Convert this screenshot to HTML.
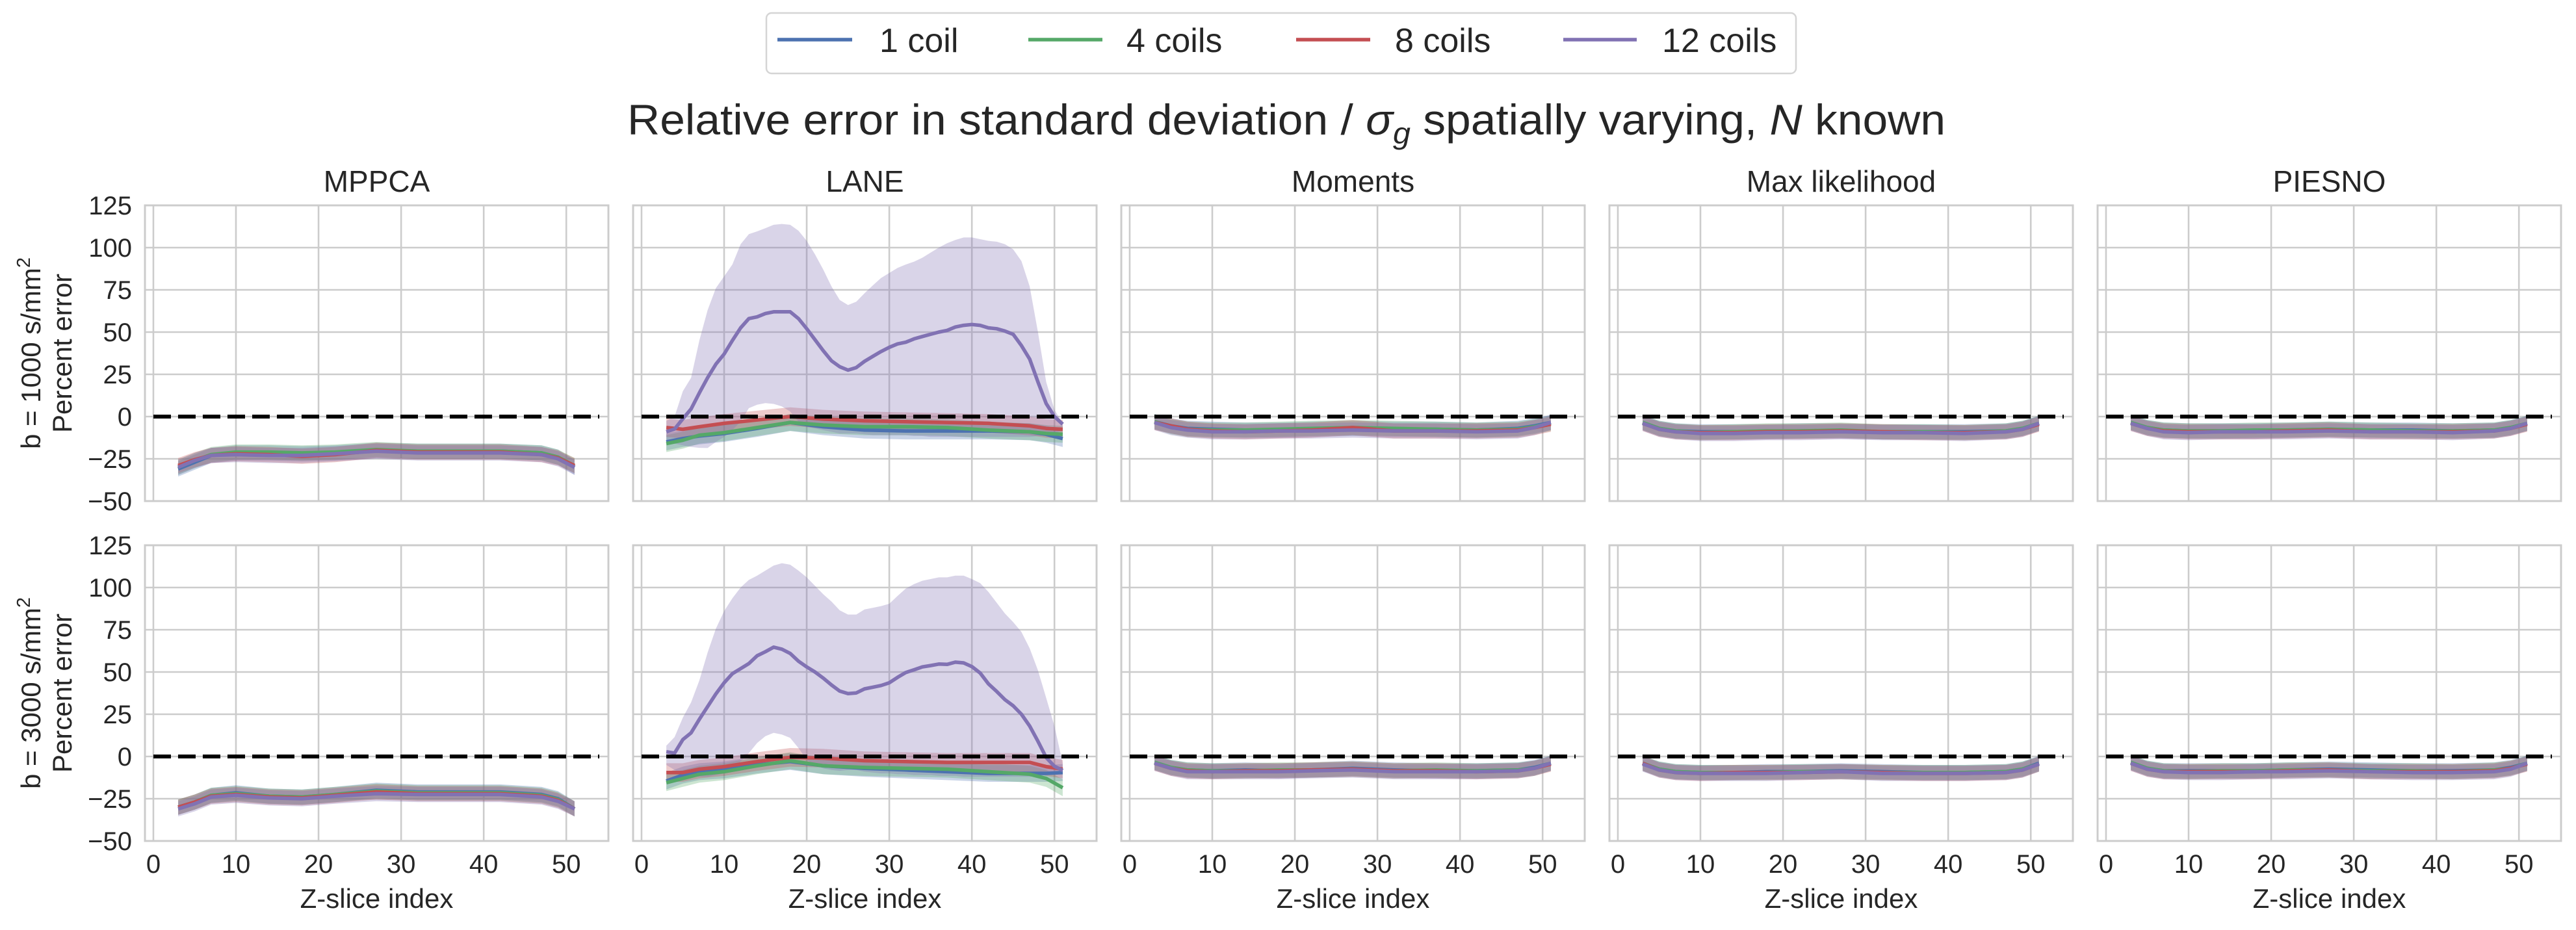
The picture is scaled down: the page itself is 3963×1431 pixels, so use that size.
<!DOCTYPE html>
<html><head><meta charset="utf-8"><style>
html,body{margin:0;padding:0;background:#fff;}
svg{display:block;font-family:"Liberation Sans",Arial,sans-serif;}
</style></head><body>
<svg id="fig" width="3963" height="1431" viewBox="0 0 3963 1431" xmlns="http://www.w3.org/2000/svg">
<rect width="3963" height="1431" fill="#fff"/>
<g>
<rect x="1179" y="20" width="1584" height="93" rx="8" fill="#fff" stroke="#d5d5d5" stroke-width="2.5"/>
<g><line x1="1196" y1="61" x2="1311" y2="61" stroke="#4c72b0" stroke-width="5.5"/><text x="1353" y="80" font-size="52" fill="#262626">1 coil</text></g>
<g><line x1="1582" y1="61" x2="1696" y2="61" stroke="#55a868" stroke-width="5.5"/><text x="1733" y="80" font-size="52" fill="#262626">4 coils</text></g>
<g><line x1="1994" y1="61" x2="2108" y2="61" stroke="#c44e52" stroke-width="5.5"/><text x="2146" y="80" font-size="52" fill="#262626">8 coils</text></g>
<g><line x1="2405" y1="61" x2="2518" y2="61" stroke="#8172b3" stroke-width="5.5"/><text x="2557" y="80" font-size="52" fill="#262626">12 coils</text></g>
</g>
<text x="1979" y="207" text-anchor="middle" font-size="66" fill="#262626" textLength="2028" lengthAdjust="spacingAndGlyphs">Relative error in standard deviation / <tspan font-style="italic">σ</tspan><tspan font-style="italic" font-size="46" dy="14">g</tspan><tspan dy="-14"> spatially varying, </tspan><tspan font-style="italic">N</tspan> known</text>
<g id="panels"></g>
</svg>
<script>
// ---------- data ----------
const methods = ["MPPCA","LANE","Moments","Max likelihood","PIESNO"];
const coils = ["1 coil","4 coils","8 coils","12 coils"];
const bValues = ["b = 1000 s/mm²","b = 3000 s/mm²"];
const yTicks = [125,100,75,50,25,0,-25,-50];
const yTickLabels = ["125","100","75","50","25","0","−25","−50"];
const xTicks = [0,10,20,30,40,50];
const xTickLabels = ["0","10","20","30","40","50"];
const xCoarse = [3,5,7,10,14,18,22,27,32,37,42,47,49,51];
const xFine = [3,4,5,6,7,8,9,10,11,12,13,14,15,16,17,18,19,20,21,22,23,24,25,26,27,28,29,30,31,32,33,34,35,36,37,38,39,40,41,42,43,44,45,46,47,48,49,50,51];

// MPPCA
const mppcaR1Blue   = [-31,-27,-23,-21.5,-21.5,-22,-21.5,-20,-20.5,-20.5,-20.5,-21.5,-24,-30];
const mppcaR1Green  = [-30,-26,-22.5,-21,-21,-21.5,-21,-19.5,-20.5,-20.5,-20.5,-21.5,-24,-29];
const mppcaR1Red    = [-29,-25.5,-23,-22,-22.5,-23.5,-22.5,-20,-21,-21,-21,-22.5,-24.5,-29];
const mppcaR1Purple = [-30,-26,-23,-22.5,-23,-23,-22,-20.5,-21.5,-21.5,-21.5,-22.5,-25,-30];
const mppcaR2Blue   = [-30,-27,-23,-21.5,-23.5,-24,-22.5,-20,-21,-21,-21,-22.5,-25,-31];
const mppcaR2Green  = [-30,-27,-23,-22,-23.5,-24,-22.5,-20.5,-21.5,-21.5,-21.5,-23,-25.5,-31];
const mppcaR2Red    = [-30,-27,-23.5,-22.5,-24,-24.5,-23,-21,-22,-22,-22,-23.5,-26,-31];
const mppcaR2Purple = [-31,-28,-24,-23,-24.5,-25,-23.5,-22,-22.5,-22.5,-22.5,-24,-26.5,-31];
// LANE (1/4/8 coils on coarse grid)
const laneR1Blue  = [-15,-13,-11.5,-10,-7,-3.5,-6,-8,-8.5,-8.5,-8.5,-9,-10.5,-13];
const laneR1Green = [-16,-14,-11,-9.5,-6.5,-3.5,-5,-6,-6,-6.5,-8,-9,-10,-10.5];
const laneR1Red   = [-6.5,-7.5,-6,-4,-2,0,-1.5,-2.5,-3,-3.5,-4,-5.5,-7,-7.5];
const laneR2Blue  = [-14.5,-11,-9,-8,-5,-3,-5.5,-7,-8,-9,-10,-10,-10,-9.5];
const laneR2Green = [-15.5,-13,-10.5,-9,-5.5,-2.5,-5.5,-6.5,-7,-7.5,-9,-10.5,-13,-18.5];
const laneR2Red   = [-9.5,-9.5,-7.5,-6,-3,-0.5,-1,-2.5,-3,-3.5,-3.5,-3.5,-6,-7.5];
// LANE 12 coils (fine grid) mean / band
const laneR1Purple   = [-9,-7.4,-1.3,4.5,14,23,31,37,45,52.5,58,59,61,62,62,62,58,52,45.5,39,33,29.5,27.5,29,32.7,35.6,38.5,41,43,44,46,47.4,48.7,50,51,53,54,54.5,54,52.5,52,50.6,48.7,42,34,20.5,7.7,0,-4.5];
const laneR1PurpleHi = [-2.5,0,15,23,45,63,76,83,90,102,108,109.6,111.5,113.5,114,113.5,110,104,96,87,77,69,66,68,73,77.6,82,85,88,90,91.7,94,97,100,102.6,104.5,106,106,105,104,103.5,102,99,92,77,50,20.5,4,-4];
const laneR1PurpleLo = [-15,-16,-17,-18,-18.5,-18.6,-15,-12,-8,-3,5,7,8,7.5,6,3,-3,-6,-7,-8,-9,-10,-10,-10,-10.5,-11,-11,-11,-11,-11,-11.5,-11.5,-12,-12,-12,-12,-12,-12,-12,-12,-12,-12,-12,-12,-12,-11.5,-11,-10,-8];
const laneR2Purple   = [2.8,2,10,14,22,29.5,37,43.6,49,52,55,59.6,62,64.7,63.5,61,56.4,53,50,46.4,42.3,38.7,37.2,37.6,40,41,42,43.6,46.8,49.7,51.3,53,53.8,54.7,54.5,55.8,55.4,53.2,49.4,43,38.5,33.6,30,25,18,9,-0.6,-5.8,-8.3];
const laneR2PurpleHi = [6.4,11.5,23,32,45,61.5,75.6,86,93.6,100,104.5,107,110,113,114.4,113.5,110,106,101,96,91.7,86.5,84,84,87,88,89,90.4,95,99.4,102,104,105,106,106,107,107,105,102.6,97.4,91,84.6,79.5,73.7,64,51,34.6,18,-4];
const laneR2PurpleLo = [-5,-8,-10,-11,-12,-12,-11,-10,-7,-3,2,8,12,14,13,11,5,-2,-5,-7,-8,-8.5,-8,-8,-9,-9.5,-10,-10,-10.5,-10.5,-11,-11,-11,-11.5,-11.5,-11.5,-12,-12,-12,-12,-12,-12,-12,-12,-12,-11.5,-11,-10.5,-10];
// Moments
const momR1Blue   = [-3,-5.5,-7,-7.5,-8,-8,-7.5,-7,-7.5,-7.5,-8,-7,-5.5,-3.5];
const momR1Green  = [-3,-6,-7.5,-8,-8,-7.5,-7,-6.5,-7,-7.5,-8,-7.5,-6,-4];
const momR1Red    = [-3.5,-5.5,-7.5,-8.5,-9,-8.5,-8,-6.5,-8.5,-8.5,-8.5,-8,-6.5,-4.5];
const momR1Purple = [-3.5,-6.5,-8,-9,-9,-8.5,-8.5,-8,-8.5,-8.5,-9,-8.5,-6.5,-3.5];
const momR2Blue   = [-3.5,-6.5,-8,-8.5,-8,-8.5,-8,-7,-8,-8.5,-8.5,-8,-6.5,-4];
const momR2Green  = [-3.5,-6.5,-8,-8.5,-8.5,-8,-8,-7.5,-8.5,-8,-8.5,-8,-7,-4];
const momR2Red    = [-4,-7,-8.5,-9,-8.5,-8.5,-8,-7.5,-8.5,-8.5,-9,-8.5,-7,-4.5];
const momR2Purple = [-4,-7,-9,-9,-9,-9,-8.5,-8,-9,-9,-9,-8.5,-7,-4];
// Max likelihood
const mlR1Blue   = [-3.5,-7,-8.5,-9,-9,-9,-8.5,-8.5,-9,-9,-9,-8.5,-7,-4];
const mlR1Green  = [-3.5,-7,-8.5,-9.5,-9,-8.5,-8.5,-8,-9,-9,-9.5,-8.5,-7,-4];
const mlR1Red    = [-4,-7.5,-9,-9.5,-9.5,-9,-9,-8.5,-9,-9.5,-9.5,-9,-7.5,-4.5];
const mlR1Purple = [-4,-7.5,-9,-10,-10,-9.5,-9.5,-9,-9.5,-9.5,-10,-9,-7.5,-4];
const mlR2Blue   = [-4,-7.5,-9,-9.5,-9.5,-9,-9,-8.5,-9,-9.5,-9.5,-9,-7.5,-4];
const mlR2Green  = [-4,-7.5,-9,-9.5,-9.5,-9.5,-9,-9,-9.5,-9.5,-9.5,-9,-7.5,-4.5];
const mlR2Red    = [-4,-8,-9.5,-10,-9.5,-9.5,-9.5,-9,-9.5,-10,-10,-9.5,-8,-4.5];
const mlR2Purple = [-4.5,-8,-9.5,-10,-10,-10,-9.5,-9,-10,-10,-10,-9.5,-8,-4.5];
// PIESNO
const pieR1Blue   = [-3.5,-6.5,-8,-8.5,-8.5,-8.5,-8,-7.5,-8,-8,-8.5,-8,-6.5,-4];
const pieR1Green  = [-3.5,-6.5,-8,-8.5,-8.5,-8,-8,-7.5,-8,-8.5,-8.5,-8,-6.5,-4];
const pieR1Red    = [-4,-7,-8.5,-9,-9,-9,-8.5,-8,-9,-9,-9,-8.5,-7,-4.5];
const pieR1Purple = [-4,-7,-9,-9.5,-9,-9,-9,-8.5,-9,-9,-9.5,-8.5,-7,-4];
const pieR2Blue   = [-3.5,-7,-8.5,-8.5,-8.5,-8.5,-8,-7.5,-8,-8.5,-8.5,-8,-6.5,-4];
const pieR2Green  = [-3.5,-7,-8.5,-9,-8.5,-8.5,-8,-8,-8.5,-8.5,-9,-8,-7,-4];
const pieR2Red    = [-4,-7.5,-9,-9,-9,-9,-8.5,-8,-9,-9,-9,-8.5,-7,-4.5];
const pieR2Purple = [-4,-7.5,-9,-9.5,-9.5,-9,-9,-8.5,-9,-9.5,-9.5,-9,-7.5,-4];
// band half-widths (std) per method
const spreadMPPCA = [4.5,4.5,4.5,4.5];
const spreadLANE = [5,5,5.5,0];
const spreadMoments = [4.5,4.5,4.5,4.5];
const spreadML = [4.5,4.5,4.5,4.5];
const spreadPIESNO = [4.5,4.5,4.5,4.5];

// ---------- layout ----------
const colors = ["#4c72b0","#55a868","#c44e52","#8172b3"];
const colLeft = [223,974,1725,2476,3227];
const rowTop = [316,839];
const PW = 713, PH = 455;
const XMIN = -1.02, XMAX = 55.1, YMIN = -50, YMAX = 125;
const NS = "http://www.w3.org/2000/svg";
const root = document.getElementById("panels");

function el(tag, attrs, parent){
  const e = document.createElementNS(NS, tag);
  for (const k in attrs) e.setAttribute(k, attrs[k]);
  (parent||root).appendChild(e);
  return e;
}
function xs(c, v){ return colLeft[c] + (v - XMIN) / (XMAX - XMIN) * PW; }
function ys(r, v){ return rowTop[r] + (YMAX - v) / (YMAX - YMIN) * PH; }

const rowsData = [
  [ [mppcaR1Blue,mppcaR1Green,mppcaR1Red,mppcaR1Purple],
    [laneR1Blue,laneR1Green,laneR1Red,null],
    [momR1Blue,momR1Green,momR1Red,momR1Purple],
    [mlR1Blue,mlR1Green,mlR1Red,mlR1Purple],
    [pieR1Blue,pieR1Green,pieR1Red,pieR1Purple] ],
  [ [mppcaR2Blue,mppcaR2Green,mppcaR2Red,mppcaR2Purple],
    [laneR2Blue,laneR2Green,laneR2Red,null],
    [momR2Blue,momR2Green,momR2Red,momR2Purple],
    [mlR2Blue,mlR2Green,mlR2Red,mlR2Purple],
    [pieR2Blue,pieR2Green,pieR2Red,pieR2Purple] ]
];
const spreads = [spreadMPPCA, spreadLANE, spreadMoments, spreadML, spreadPIESNO];
const laneFine = [
  {mean: laneR1Purple, hi: laneR1PurpleHi, lo: laneR1PurpleLo},
  {mean: laneR2Purple, hi: laneR2PurpleHi, lo: laneR2PurpleLo}
];

function linePath(r, c, xv, yv){
  return xv.map((x,i)=> (i?"L":"M") + xs(c,x).toFixed(1) + "," + ys(r,yv[i]).toFixed(1)).join("");
}
function bandPath(r, c, xv, hi, lo){
  let d = xv.map((x,i)=> (i?"L":"M") + xs(c,x).toFixed(1) + "," + ys(r,hi[i]).toFixed(1)).join("");
  for (let i = xv.length-1; i >= 0; i--) d += "L" + xs(c,xv[i]).toFixed(1) + "," + ys(r,lo[i]).toFixed(1);
  return d + "Z";
}

for (let r = 0; r < 2; r++) {
  for (let c = 0; c < 5; c++) {
    const g = el("g", {});
    
    
    const L = colLeft[c], T = rowTop[r];
    const cp = el("clipPath", {id: "cp"+r+c}, g);
    el("rect", {x: L, y: T, width: PW, height: PH}, cp);
    yTicks.forEach(v => {
      const ln = el("line", {x1: L, x2: L+PW, y1: ys(r,v), y2: ys(r,v), stroke: "#cccccc", "stroke-width": 2.6}, g);
      
      
    });
    xTicks.forEach(v => {
      const ln = el("line", {x1: xs(c,v), x2: xs(c,v), y1: T, y2: T+PH, stroke: "#cccccc", "stroke-width": 2.6}, g);
      
      
    });
    const plot = el("g", {"clip-path": "url(#cp"+r+c+")"}, g);
    const series = rowsData[r][c];
    for (let k = 0; k < 4; k++) {
      let d;
      if (series[k]) {
        const s = spreads[c][k];
        const hi = series[k].map(v => v + s), lo = series[k].map(v => v - s);
        d = bandPath(r, c, xCoarse, hi, lo);
      } else {
        d = bandPath(r, c, xFine, laneFine[r].hi, laneFine[r].lo);
      }
      const b = el("path", {d: d, fill: colors[k], "fill-opacity": 0.3, stroke: "none"}, plot);
      
      
    }
    for (let k = 0; k < 4; k++) {
      const d = series[k] ? linePath(r, c, xCoarse, series[k]) : linePath(r, c, xFine, laneFine[r].mean);
      const p = el("path", {d: d, fill: "none", stroke: colors[k], "stroke-width": 5.5, "stroke-linejoin": "round"}, plot);
      
      
    }
    const z = el("line", {x1: xs(c,0), x2: xs(c,54), y1: ys(r,0), y2: ys(r,0), stroke: "#000", "stroke-width": 6, "stroke-dasharray": "27 11"}, plot);
    
    
    const sp = el("rect", {x: L, y: T, width: PW, height: PH, fill: "none", stroke: "#cccccc", "stroke-width": 3}, g);
    
    
    if (r === 0) {
      const t = el("text", {x: L + PW/2, y: 295, "text-anchor": "middle", "font-size": 46, fill: "#262626"}, g);
      t.textContent = methods[c];
      
      
    }
    if (c === 0) {
      yTicks.forEach((v,i) => {
        const t = el("text", {x: 203, y: ys(r,v) + 14, "text-anchor": "end", "font-size": 40, fill: "#262626"}, g);
        t.textContent = yTickLabels[i];
        
        
      });
      const cy = T + PH/2;
      const t1 = el("text", {x: 0, y: 0, "text-anchor": "middle", "font-size": 42, fill: "#262626", transform: "translate(62," + cy + ") rotate(-90)"}, g);
      t1.innerHTML = 'b = ' + (r === 0 ? '1000' : '3000') + ' s/mm<tspan font-size="29" dy="-16">2</tspan>';
      
      
      const t2 = el("text", {x: 0, y: 0, "text-anchor": "middle", "font-size": 42, fill: "#262626", transform: "translate(110," + cy + ") rotate(-90)"}, g);
      t2.textContent = "Percent error";
      
      
    }
    if (r === 1) {
      xTicks.forEach((v,i) => {
        const t = el("text", {x: xs(c,v), y: 1343, "text-anchor": "middle", "font-size": 40, fill: "#262626"}, g);
        t.textContent = xTickLabels[i];
        
        
      });
      const t = el("text", {x: L + PW/2, y: 1397, "text-anchor": "middle", "font-size": 42, fill: "#262626"}, g);
      t.textContent = "Z-slice index";
      
      
    }
  }
}
</script>
</body></html>
